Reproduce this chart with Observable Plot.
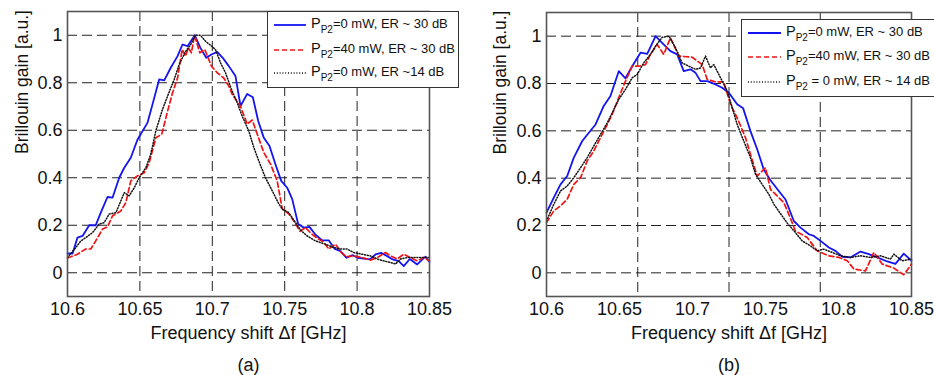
<!DOCTYPE html>
<html>
<head>
<meta charset="utf-8">
<script src="https://cdn.jsdelivr.net/npm/d3@7"></script>
<script src="https://cdn.jsdelivr.net/npm/@observablehq/plot@0.6"></script>
<style>
  html, body { margin: 0; padding: 0; background: #fff; overflow: hidden; }
  #wrap { position: relative; width: 934px; height: 375px; overflow: hidden; font-family: "Liberation Sans", Arial, sans-serif; }
  .panel { position: absolute; top: 0; }
  .legend { position: absolute; background: #fff; border: 1px solid #333; box-sizing: border-box; }
  .row { position: absolute; height: 16px; line-height: 16px; font-size: 13px; color: #111; white-space: nowrap; }
  .row .p { font-size: 14.5px; }
  .row sub { font-size: 10px; vertical-align: -5px; line-height: 0; }
  .sample { position: absolute; }
</style>
</head>
<body>
<div id="wrap"></div>
<script>
// ---------------- data ----------------
const xTicks = [10.6, 10.65, 10.7, 10.75, 10.8, 10.85];
const yTicks = [0, 0.2, 0.4, 0.6, 0.8, 1];
const gridXA = [10.65, 10.7, 10.75, 10.8];
const gridXB = [10.6625, 10.725, 10.7875];
const gridY = [0, 0.2, 0.4, 0.6, 0.8, 1];

const legendA = ["=0 mW, ER ~ 30 dB", "=40 mW, ER ~ 30 dB", "=0 mW, ER ~14 dB"];
const legendB = ["=0 mW, ER ~ 30 dB", "=40 mW, ER ~ 30 dB", " = 0 mW, ER ~ 14 dB"];

// Panel (a): P_P2 = 0 mW, ER ~ 30 dB
const aBlueF = [10.6,10.6035,10.6069,10.6104,10.615,10.6195,10.623,10.6276,10.6311,10.6357,10.6392,10.6437,10.6483,10.6552,10.6587,10.6633,10.6668,10.6713,10.676,10.6794,10.6829,10.6879,10.6918,10.6958,10.6994,10.7034,10.7072,10.7114,10.716,10.7195,10.7241,10.728,10.7317,10.7356,10.7395,10.7436,10.7476,10.7517,10.7552,10.7593,10.7632,10.7671,10.7713,10.7759,10.7805,10.7846,10.7885,10.7927,10.7968,10.8005,10.8046,10.8088,10.8127,10.8166,10.8208,10.8246,10.8288,10.8322,10.8364,10.8415,10.8472,10.85];
const aBlueG = [0.081,0.081,0.148,0.155,0.2,0.2,0.253,0.319,0.316,0.4,0.442,0.484,0.56,0.631,0.709,0.814,0.81,0.863,0.912,0.961,0.954,1.0,0.947,0.905,0.919,0.93,0.905,0.87,0.828,0.702,0.753,0.739,0.639,0.568,0.534,0.457,0.387,0.358,0.31,0.205,0.19,0.193,0.16,0.136,0.136,0.1,0.091,0.063,0.074,0.063,0.06,0.056,0.077,0.084,0.07,0.056,0.049,0.028,0.058,0.035,0.068,0.045];
// Panel (a): P_P2 = 40 mW, ER ~ 30 dB
const aRedF = [10.6,10.6069,10.6126,10.6161,10.6195,10.6242,10.6276,10.6311,10.6368,10.6403,10.6437,10.6483,10.653,10.6564,10.661,10.6651,10.6691,10.6725,10.676,10.6792,10.6815,10.6834,10.6856,10.6877,10.6914,10.6948,10.6994,10.7034,10.7079,10.7114,10.7137,10.7195,10.7241,10.7276,10.731,10.7356,10.7402,10.7448,10.7483,10.7528,10.7563,10.7605,10.7644,10.7683,10.7724,10.7766,10.7805,10.7851,10.7892,10.7927,10.7977,10.8046,10.8092,10.8139,10.8196,10.8231,10.8277,10.8322,10.8369,10.8415,10.8461,10.85];
const aRedG = [0.062,0.078,0.1,0.1,0.134,0.184,0.193,0.24,0.26,0.295,0.387,0.408,0.421,0.463,0.568,0.583,0.68,0.757,0.82,0.94,0.912,0.947,0.926,1.0,0.926,0.94,0.87,0.842,0.82,0.786,0.752,0.7,0.626,0.643,0.584,0.506,0.458,0.387,0.269,0.248,0.218,0.175,0.19,0.165,0.145,0.13,0.1,0.12,0.085,0.068,0.071,0.062,0.053,0.064,0.085,0.071,0.058,0.078,0.064,0.05,0.064,0.05];
// Panel (a): P_P2 = 0 mW, ER ~ 14 dB
const aBlackF = [10.6,10.6057,10.6092,10.6126,10.6173,10.6219,10.6253,10.6288,10.6334,10.6392,10.6426,10.6461,10.6495,10.6541,10.6575,10.661,10.6656,10.6697,10.6737,10.6771,10.6817,10.6851,10.6884,10.6918,10.6953,10.6988,10.7022,10.7057,10.7091,10.7137,10.7172,10.7206,10.7252,10.7287,10.7321,10.7367,10.7414,10.7455,10.7483,10.7528,10.7575,10.7609,10.7655,10.7713,10.7782,10.7839,10.7885,10.7931,10.7977,10.8035,10.8092,10.8139,10.8184,10.8231,10.8265,10.83,10.8346,10.8392,10.8438,10.85];
const aBlackG = [0.064,0.106,0.134,0.148,0.169,0.205,0.211,0.247,0.253,0.337,0.324,0.358,0.4,0.442,0.499,0.597,0.688,0.753,0.814,0.877,0.933,0.961,1.0,1.0,0.975,0.958,0.94,0.884,0.842,0.765,0.716,0.66,0.597,0.527,0.471,0.4,0.345,0.295,0.268,0.253,0.211,0.18,0.155,0.134,0.12,0.106,0.1,0.1,0.085,0.078,0.071,0.058,0.05,0.043,0.037,0.058,0.064,0.064,0.064,0.064];

// Panel (b): P_P2 = 0 mW, ER ~ 30 dB
const bBlueF = [10.6,10.605,10.6096,10.6142,10.6187,10.6245,10.629,10.6336,10.6392,10.6438,10.6495,10.6541,10.6587,10.6644,10.669,10.6747,10.6792,10.6849,10.6895,10.694,10.6986,10.7021,10.7055,10.7101,10.7158,10.7203,10.7249,10.7306,10.7347,10.7397,10.7443,10.7488,10.7534,10.7591,10.7637,10.7694,10.774,10.7797,10.7831,10.7877,10.7934,10.7979,10.8027,10.8082,10.8151,10.8208,10.8265,10.8334,10.839,10.8447,10.85];
const bBlueG = [0.254,0.318,0.374,0.409,0.487,0.557,0.592,0.627,0.705,0.747,0.852,0.822,0.873,0.93,0.925,1.0,0.972,0.937,0.923,0.852,0.86,0.845,0.81,0.81,0.796,0.782,0.761,0.712,0.695,0.599,0.522,0.437,0.391,0.346,0.31,0.219,0.191,0.163,0.156,0.135,0.107,0.093,0.068,0.065,0.09,0.079,0.065,0.048,0.038,0.081,0.051];
// Panel (b): P_P2 = 40 mW, ER ~ 30 dB
const bRedF = [10.6,10.605,10.6096,10.6142,10.6187,10.6233,10.6279,10.6324,10.637,10.6416,10.645,10.6495,10.6541,10.6587,10.6632,10.6678,10.6712,10.6758,10.6803,10.6849,10.6906,10.6998,10.7066,10.7101,10.7158,10.7214,10.726,10.7306,10.7363,10.7397,10.7443,10.75,10.7534,10.758,10.7625,10.7658,10.7705,10.7786,10.7854,10.7934,10.8003,10.806,10.8105,10.8185,10.8242,10.8299,10.8379,10.8447,10.85];
const bRedG = [0.212,0.262,0.283,0.311,0.374,0.402,0.473,0.515,0.571,0.627,0.67,0.74,0.81,0.873,0.873,0.88,0.923,0.965,0.923,0.993,0.916,0.911,0.88,0.817,0.807,0.807,0.712,0.655,0.571,0.501,0.409,0.444,0.353,0.325,0.297,0.25,0.177,0.149,0.093,0.072,0.065,0.051,0.016,0.008,0.086,0.037,0.02,-0.008,0.037];
// Panel (b): P_P2 = 0 mW, ER ~ 14 dB
const bBlackF = [10.6,10.605,10.6096,10.6142,10.6187,10.6233,10.6279,10.6324,10.637,10.6416,10.645,10.6495,10.6541,10.6587,10.6621,10.6666,10.6712,10.6747,10.6792,10.6838,10.6884,10.6929,10.6975,10.7021,10.7055,10.7089,10.7123,10.7146,10.7192,10.7238,10.7272,10.7306,10.7351,10.7397,10.7432,10.7477,10.7523,10.7557,10.7603,10.7649,10.7705,10.7751,10.7808,10.7854,10.7899,10.7957,10.8014,10.8082,10.8151,10.8219,10.8288,10.8356,10.8379,10.8436,10.85];
const bBlackG = [0.219,0.29,0.346,0.367,0.402,0.444,0.487,0.536,0.585,0.634,0.676,0.733,0.775,0.824,0.838,0.887,0.923,0.958,0.995,1.0,0.951,0.887,0.873,0.86,0.866,0.916,0.866,0.88,0.824,0.768,0.698,0.627,0.557,0.487,0.416,0.374,0.332,0.29,0.25,0.21,0.17,0.135,0.114,0.093,0.1,0.086,0.072,0.065,0.072,0.065,0.072,0.058,0.079,0.051,0.058];

// ---------------- styles ----------------
const styles = [
  {stroke: "#1414f0", strokeWidth: 1.8, strokeDasharray: null},
  {stroke: "#f01414", strokeWidth: 1.7, strokeDasharray: "5,3"},
  {stroke: "#111111", strokeWidth: 1.5, strokeDasharray: "1,1.8"}
];

function pts(F, G) { return F.map((f, i) => ({f, g: G[i]})); }

function panel(opts) {
  const lineMarks = opts.series.map((s, i) => {
    const st = styles[i];
    const o = {x: "f", y: "g", stroke: st.stroke, strokeWidth: st.strokeWidth, strokeLinejoin: "round"};
    if (st.strokeDasharray) o.strokeDasharray = st.strokeDasharray;
    return Plot.line(s, o);
  });
  return Plot.plot({
    width: 467,
    height: 375,
    marginLeft: opts.ml,
    marginRight: opts.mr,
    marginTop: opts.mt,
    marginBottom: 79,
    style: {fontFamily: "Liberation Sans, Arial, sans-serif", color: "#111", background: "white"},
    x: {domain: [10.6, 10.85], axis: null},
    y: {domain: [-0.1, 1.1], axis: null},
    marks: [
      Plot.ruleX(opts.gridX, {stroke: "#222", strokeWidth: 1, strokeDasharray: "10,5"}),
      Plot.ruleY(gridY, {stroke: "#222", strokeWidth: 1, strokeDasharray: "10,5"}),
      ...lineMarks,
      Plot.frame({stroke: "#555", strokeWidth: 1.6}),
      Plot.text(xTicks, {x: d => d, text: d => String(d), frameAnchor: "bottom", dy: 13, fontSize: 18, lineAnchor: "middle", fill: "#111"}),
      Plot.text(yTicks, {y: d => d, text: d => String(d), frameAnchor: "left", dx: -5, textAnchor: "end", fontSize: 18, lineAnchor: "middle", fill: "#111"}),
      Plot.text(["Frequency shift \u0394f [GHz]"], {frameAnchor: "bottom", dy: 37, fontSize: 18, lineAnchor: "middle", fill: "#111"}),
      Plot.text([opts.tag], {frameAnchor: "bottom", dy: 69, fontSize: 18, lineAnchor: "middle", fill: "#111"}),
      Plot.text(["Brillouin gain [a.u.]"], {frameAnchor: "left", dx: opts.ytitleDx, rotate: -90, fontSize: 17.5, lineAnchor: "middle", fill: "#111"})
    ]
  });
}

const wrap = document.getElementById("wrap");

function addPanel(left, chart) {
  const d = document.createElement("div");
  d.className = "panel";
  d.style.left = left + "px";
  d.appendChild(chart);
  wrap.appendChild(d);
}

addPanel(0, panel({
  series: [pts(aBlueF, aBlueG), pts(aRedF, aRedG), pts(aBlackF, aBlackG)],
  gridX: gridXA, ml: 67, mr: 38, mt: 11, tag: "(a)", ytitleDx: -45
}));
addPanel(467, panel({
  series: [pts(bBlueF, bBlueG), pts(bRedF, bRedG), pts(bBlackF, bBlackG)],
  gridX: gridXB, ml: 79, mr: 23, mt: 12, tag: "(b)", ytitleDx: -46
}));

function addLegend(box, labels) {
  const lg = document.createElement("div");
  lg.className = "legend";
  lg.style.left = box.left + "px";
  lg.style.top = box.top + "px";
  lg.style.width = box.width + "px";
  lg.style.height = box.height + "px";
  labels.forEach((lab, i) => {
    const cy = box.rows[i];
    const st = styles[i];
    const svgNS = "http://www.w3.org/2000/svg";
    const s = document.createElementNS(svgNS, "svg");
    s.setAttribute("class", "sample");
    s.setAttribute("width", box.sw);
    s.setAttribute("height", 6);
    s.style.left = box.sx + "px";
    s.style.top = (cy - 3) + "px";
    const l = document.createElementNS(svgNS, "line");
    l.setAttribute("x1", 0); l.setAttribute("x2", box.sw);
    l.setAttribute("y1", 3); l.setAttribute("y2", 3);
    l.setAttribute("stroke", st.stroke);
    l.setAttribute("stroke-width", st.strokeWidth);
    if (st.strokeDasharray) l.setAttribute("stroke-dasharray", st.strokeDasharray);
    s.appendChild(l);
    lg.appendChild(s);
    const r = document.createElement("div");
    r.className = "row";
    r.style.left = box.tx + "px";
    r.style.top = (cy - 10) + "px";
    r.innerHTML = "<span class=\"p\">P</span><sub>P2</sub>" + lab;
    lg.appendChild(r);
  });
  wrap.appendChild(lg);
}

addLegend({left: 267, top: 11, width: 192, height: 77, rows: [13, 38, 61], sx: 6, sw: 32, tx: 43}, legendA);
addLegend({left: 741, top: 19, width: 200, height: 78, rows: [13, 37, 62], sx: 6, sw: 33, tx: 44}, legendB);
</script>
</body>
</html>
